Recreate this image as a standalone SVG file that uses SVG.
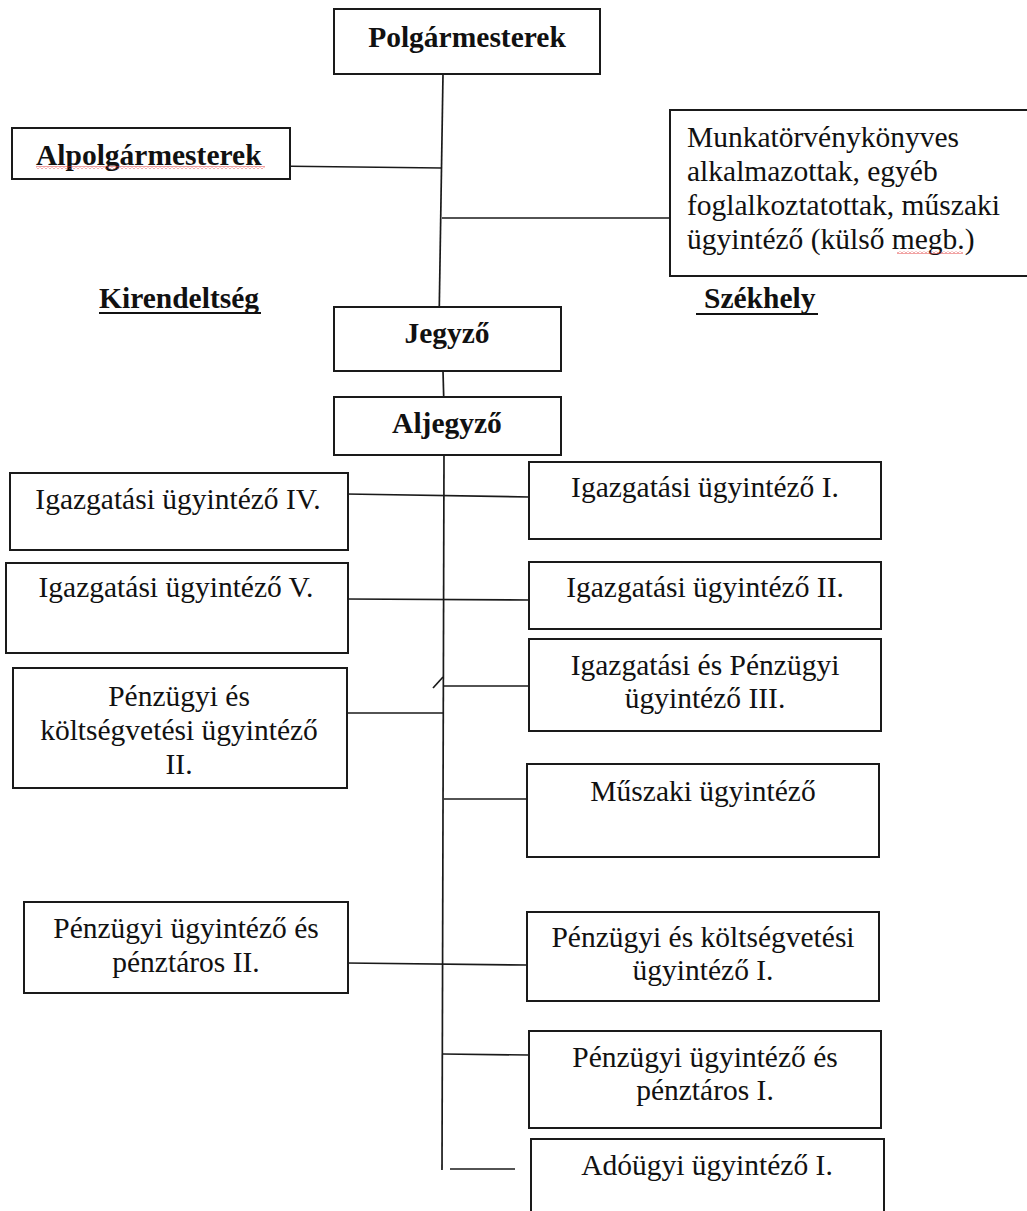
<svg xmlns="http://www.w3.org/2000/svg" width="1027" height="1211" viewBox="0 0 1027 1211">
<style>
.box{fill:#fff;stroke:#1a1a1a;stroke-width:2}
.ln{stroke:#1a1a1a;stroke-width:1.7;fill:none}
.t{font-family:"Liberation Serif","Times New Roman",serif;font-size:29.5px;fill:#111}
.c{text-anchor:middle}
.b{font-weight:bold}
.ul{stroke:#111;stroke-width:2.2}
</style>
<defs>
<pattern id="wave" width="4" height="3" patternUnits="userSpaceOnUse"><path d="M0,2.5 L2,0.5 L4,2.5" fill="none" stroke="#e03030" stroke-width="0.9"/></pattern>
</defs>
<rect width="1027" height="1211" fill="#fff"/>

<g id="connectors">
<path class="ln" d="M443,74 L439,325"/>
<path class="ln" d="M270,166 L442,168"/>
<path class="ln" d="M442,218 L670,218"/>
<path class="ln" d="M443,371 L444,408"/>
<path class="ln" d="M444,455 L442,1170"/>
<path class="ln" d="M346,494 L529,497"/>
<path class="ln" d="M346,599 L529,600"/>
<path class="ln" d="M443,686 L529,686"/>
<path class="ln" d="M433,688 L443,677"/>
<path class="ln" d="M347,713 L443,713"/>
<path class="ln" d="M444,799 L527,799"/>
<path class="ln" d="M346,963 L527,965"/>
<path class="ln" d="M443,1054 L529,1055"/>
<path class="ln" d="M450,1169 L515,1169"/>
</g>

<g id="polgarmesterek">
<rect class="box" x="334" y="9" width="266" height="65"/>
<text class="t b c" x="467" y="47">Polgármesterek</text>
</g>

<g id="alpolgarmesterek">
<rect class="box" x="12" y="128" width="278" height="51"/>
<text class="t b" x="36" y="165">Alpolgármesterek</text>
<rect x="36" y="166" width="229" height="3" fill="url(#wave)"/>
</g>

<g id="munkatorveny">
<rect class="box" x="670" y="110" width="372" height="166"/>
<text class="t" x="687" y="147">Munkatörvénykönyves</text>
<text class="t" x="687" y="181">alkalmazottak, egyéb</text>
<text class="t" x="687" y="215">foglalkoztatottak, műszaki</text>
<text class="t" x="687" y="249">ügyintéző (külső megb.)</text>
<rect x="897" y="251" width="66" height="3" fill="url(#wave)"/>
</g>

<g id="kirendeltseg">
<text class="t b" x="99" y="308">Kirendeltség</text>
<line class="ul" x1="99" y1="313" x2="261" y2="313"/>
</g>

<g id="szekhely">
<text class="t b" x="704" y="308">Székhely</text>
<line class="ul" x1="696" y1="314" x2="818" y2="314"/>
</g>

<g id="jegyzo">
<rect class="box" x="334" y="307" width="227" height="64"/>
<text class="t b c" x="447" y="343">Jegyző</text>
</g>

<g id="aljegyzo">
<rect class="box" x="334" y="397" width="227" height="58"/>
<text class="t b c" x="447" y="433">Aljegyző</text>
</g>

<g id="igazg-iv">
<rect class="box" x="10" y="473" width="338" height="77"/>
<text class="t c" x="178" y="509">Igazgatási ügyintéző IV.</text>
</g>

<g id="igazg-v">
<rect class="box" x="6" y="563" width="342" height="90"/>
<text class="t c" x="176" y="597">Igazgatási ügyintéző V.</text>
</g>

<g id="penz-koltseg-ii">
<rect class="box" x="13" y="668" width="334" height="120"/>
<text class="t c" x="179" y="706">Pénzügyi és</text>
<text class="t c" x="179" y="740">költségvetési ügyintéző</text>
<text class="t c" x="179" y="774">II.</text>
</g>

<g id="penz-penztaros-ii">
<rect class="box" x="24" y="902" width="324" height="91"/>
<text class="t c" x="186" y="938">Pénzügyi ügyintéző és</text>
<text class="t c" x="186" y="972">pénztáros II.</text>
</g>

<g id="igazg-i">
<rect class="box" x="529" y="462" width="352" height="77"/>
<text class="t c" x="705" y="497">Igazgatási ügyintéző I.</text>
</g>

<g id="igazg-ii">
<rect class="box" x="529" y="562" width="352" height="67"/>
<text class="t c" x="705" y="597">Igazgatási ügyintéző II.</text>
</g>

<g id="igazg-penz-iii">
<rect class="box" x="529" y="639" width="352" height="92"/>
<text class="t c" x="705" y="675">Igazgatási és Pénzügyi</text>
<text class="t c" x="705" y="708">ügyintéző III.</text>
</g>

<g id="muszaki">
<rect class="box" x="527" y="764" width="352" height="93"/>
<text class="t c" x="703" y="801">Műszaki ügyintéző</text>
</g>

<g id="penz-koltseg-i">
<rect class="box" x="527" y="912" width="352" height="89"/>
<text class="t c" x="703" y="947">Pénzügyi és költségvetési</text>
<text class="t c" x="703" y="980">ügyintéző I.</text>
</g>

<g id="penz-penztaros-i">
<rect class="box" x="529" y="1031" width="352" height="97"/>
<text class="t c" x="705" y="1067">Pénzügyi ügyintéző és</text>
<text class="t c" x="705" y="1100">pénztáros I.</text>
</g>

<g id="adougyi-i">
<rect class="box" x="531" y="1139" width="353" height="90"/>
<text class="t c" x="707" y="1175">Adóügyi ügyintéző I.</text>
</g>
</svg>
